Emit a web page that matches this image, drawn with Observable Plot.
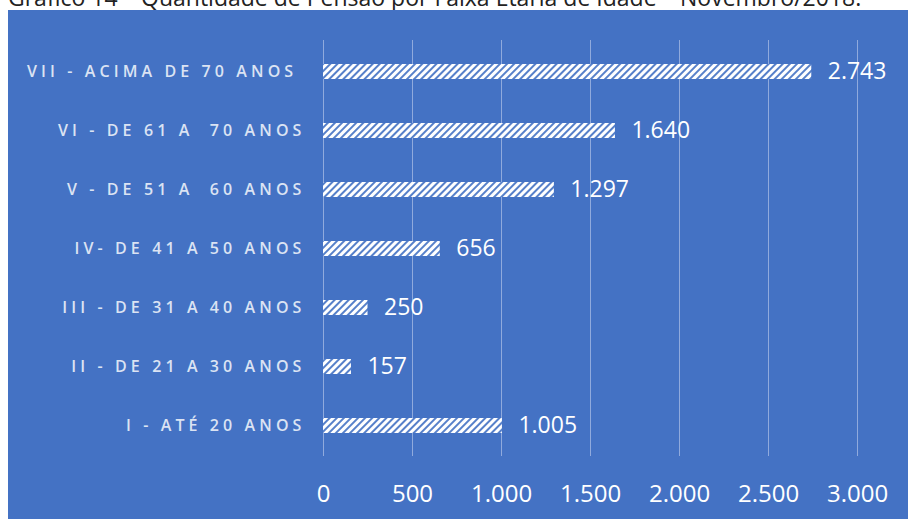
<!DOCTYPE html>
<html>
<head>
<meta charset="utf-8">
<script src="https://cdn.jsdelivr.net/npm/d3@7"></script>
<script src="https://cdn.jsdelivr.net/npm/@observablehq/plot@0.6"></script>
<style>
  html, body { margin: 0; padding: 0; background: #fff; overflow: hidden; }
  #wrap { position: relative; width: 908px; height: 519px; overflow: hidden; }
  #title { position: absolute; left: 8px; top: -15px; font-family: "Open Sans", sans-serif; font-size: 23px; line-height: 24px; color: #222; white-space: nowrap; }
  #panel { position: absolute; left: 8px; top: 10px; width: 900px; height: 509px; background: #4472C4; }
  #panel svg g[aria-label="y-axis tick label"] text { letter-spacing: 4.1px; white-space: pre; }
</style>
</head>
<body>
<div id="wrap">
  <div id="title">Gráfico 14 – Quantidade de Pensão por Faixa Etária de Idade – Novembro/2018.</div>
  <div id="panel"></div>
</div>
<script>
const categories = [
  "VII - ACIMA DE 70 ANOS ",
  "VI - DE 61 A  70 ANOS",
  "V - DE 51 A  60 ANOS",
  "IV- DE 41 A 50 ANOS",
  "III - DE 31 A 40 ANOS",
  "II - DE 21 A 30 ANOS",
  "I - ATÉ 20 ANOS"
];
const values = [2743, 1640, 1297, 656, 250, 157, 1005];
const xTicks = [0, 500, 1000, 1500, 2000, 2500, 3000];

const data = categories.map((c, i) => ({category: c, value: values[i]}));
const loc = d3.formatLocale({decimal: ",", thousands: ".", grouping: [3], currency: ["R$", ""]});
const fmt = loc.format(",d");

function hatchDefs() {
  const ns = "http://www.w3.org/2000/svg";
  const g = document.createElementNS(ns, "g");
  g.innerHTML = `<defs><pattern id="hatch" patternUnits="userSpaceOnUse" width="5" height="5" patternTransform="rotate(45)">
    <rect width="5" height="5" fill="#ffffff"></rect>
    <line x1="1" y1="0" x2="1" y2="5" stroke="#4472C4" stroke-width="1.8"></line>
  </pattern></defs>`;
  return g;
}

const chart = Plot.plot({
  width: 900,
  height: 509,
  marginLeft: 315,
  marginRight: 51,
  marginTop: 30,
  marginBottom: 63,
  style: {background: "transparent", fontFamily: "Open Sans, sans-serif", overflow: "visible"},
  x: {domain: [0, 3000]},
  y: {domain: categories, paddingInner: 0.75, paddingOuter: 0.375},
  marks: [
    hatchDefs,
    Plot.gridX(xTicks, {stroke: "#a9bde6", strokeOpacity: 0.75, strokeWidth: 1}),
    Plot.barX(data, {x: "value", y: "category", fill: "url(#hatch)"}),
    Plot.text(data, {x: "value", y: "category", text: d => fmt(d.value), textAnchor: "start", dx: 16, fill: "#ffffff", fontSize: 23}),
    Plot.axisX(xTicks, {tickSize: 0, tickPadding: 28, tickFormat: fmt, fontSize: 24, fill: "#ffffff", label: null, color: "#ffffff"}),
    Plot.axisY({tickSize: 0, tickPadding: 18, fontSize: 16, fontWeight: 600, fill: "#dbe3f3", label: null})
  ]
});
document.getElementById("panel").appendChild(chart);
</script>
</body>
</html>
